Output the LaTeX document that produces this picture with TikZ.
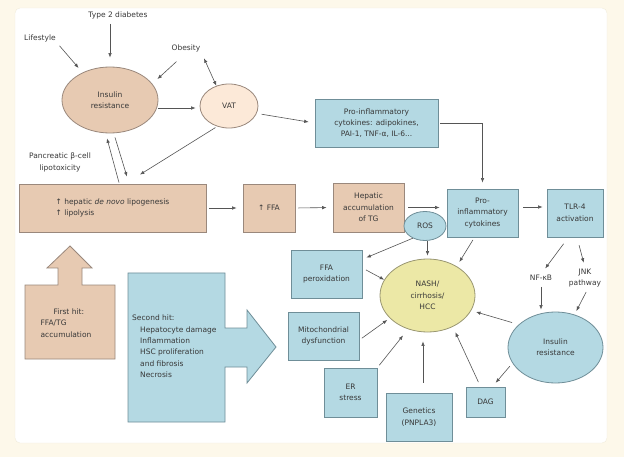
\documentclass[tikz,border=0pt]{standalone}
\usepackage{fontspec}
\setmainfont{DejaVu Sans}
\usetikzlibrary{shapes.geometric}
\usetikzlibrary{arrows.meta}

\definecolor{bgcream}{HTML}{FDF8EA}
\definecolor{panelline}{HTML}{F1ECDC}
\definecolor{brownfill}{HTML}{E7CAB2}
\definecolor{brownline}{HTML}{9A887C}
\definecolor{vatfill}{HTML}{FCE9D8}
\definecolor{bluefill}{HTML}{B4D9E3}
\definecolor{blueline}{HTML}{6F8E98}
\definecolor{yellowfill}{HTML}{ECE8A6}
\definecolor{yellowline}{HTML}{9A9772}
\definecolor{arrowgray}{HTML}{555555}
\definecolor{txtgray}{HTML}{383838}

\begin{document}
\begin{tikzpicture}[
  x=1pt, y=-1pt,
  font=\fontsize{7.5}{11.4}\selectfont,
  every node/.style={text=txtgray},
  brownbox/.style={rectangle, draw=brownline, fill=brownfill, line width=0.8pt, inner sep=0pt, align=center},
  bluebox/.style={rectangle, draw=blueline, fill=bluefill, line width=0.8pt, inner sep=0pt, align=center},
  blob/.style={ellipse, line width=0.8pt, inner sep=0pt, align=center},
  plain text/.style={inner sep=1pt, align=center},
  link/.style={draw=arrowgray, line width=0.6pt, -{Latex[length=4.5pt, width=3.5pt]}},
  both ways/.style={draw=arrowgray, line width=0.6pt, {Latex[length=4.5pt, width=3.5pt]}-{Latex[length=4.5pt, width=3.5pt]}},
  big arrow/.style={line width=0.8pt, line join=miter}
]

% Page and panel
\useasboundingbox (0,0) rectangle (624,457);
\fill[bgcream] (0,0) rectangle (624,457);
\filldraw[fill=white, draw=panelline, rounded corners=5pt] (15,8) rectangle (607,443);

%% RISK FACTORS
\node[plain text] (t2d) at (118,15) {Type 2 diabetes};
\node[plain text] (lifestyle) at (40,38) {Lifestyle};
\node[plain text] (obesity) at (186,48) {Obesity};
\node[plain text] (pancreas) at (60,162.5) {Pancreatic β-cell\\lipotoxicity};

\node[blob, draw=brownline, fill=brownfill, minimum width=96pt, minimum height=66pt] (ir_top) at (110,100) {Insulin\\resistance};
\node[blob, draw=brownline, fill=vatfill, minimum width=58pt, minimum height=44pt] (vat) at (229,106) {VAT};
\node[bluebox, minimum width=123pt, minimum height=48pt] (cyto_adipo) at (376.5,123) {Pro-inflammatory\\cytokines: adipokines,\\PAI-1, TNF-α, IL-6...};

%% FIRST HIT
\node[brownbox, align=left, minimum width=187pt, minimum height=48pt] (lipo) at (112.5,208) {↑ hepatic \textit{de novo} lipogenesis\\↑ lipolysis};
\node[brownbox, minimum width=52pt, minimum height=48pt] (ffa) at (269,208) {↑ FFA};
\node[brownbox, minimum width=71pt, minimum height=49pt] (hep_tg) at (368.5,207.5) {Hepatic\\accumulation\\of TG};

% First hit arrow
\draw[big arrow, draw=brownline, fill=brownfill] (25,285) -- (58,285) -- (58,268) -- (47,268) -- (70,246) -- (92,268) -- (82,268) -- (82,285) -- (115,285) -- (115,359) -- (25,359) -- cycle;
\node[plain text, align=left] (hit_one) at (66,323) {\hspace*{13pt}First hit:\\FFA/TG\\accumulation};

%% SECOND HIT
\draw[big arrow, draw=blueline, fill=bluefill] (128,273) -- (225,273) -- (225,328) -- (247,328) -- (247,310) -- (276,347) -- (247,383) -- (247,367) -- (225,367) -- (225,422) -- (128,422) -- cycle;
\node[plain text, align=left, anchor=west] (hit_two) at (131,346.5) {Second hit:\\\hspace*{8pt}Hepatocyte damage\\\hspace*{8pt}Inflammation\\\hspace*{8pt}HSC proliferation\\\hspace*{8pt}and fibrosis\\\hspace*{8pt}Necrosis};

\node[blob, draw=blueline, fill=bluefill, minimum width=42pt, minimum height=29pt] (ros) at (425,226) {ROS};
\node[bluebox, minimum width=71pt, minimum height=48pt] (cyto_liver) at (482.5,213) {Pro-\\inflammatory\\cytokines};
\node[bluebox, minimum width=56pt, minimum height=48pt] (tlr4) at (575,213) {TLR-4\\activation};

\node[bluebox, minimum width=71pt, minimum height=48pt] (perox) at (326.5,274) {FFA\\peroxidation};
\node[bluebox, minimum width=71pt, minimum height=48pt] (mito) at (323.5,336) {Mitochondrial\\dysfunction};
\node[bluebox, minimum width=53pt, minimum height=49pt] (er) at (350.5,392.5) {ER\\stress};
\node[bluebox, minimum width=66pt, minimum height=48pt] (genetics) at (419,417) {Genetics\\(PNPLA3)};
\node[bluebox, minimum width=39pt, minimum height=30pt] (dag) at (485.5,402) {DAG};

\node[blob, draw=yellowline, fill=yellowfill, minimum width=95pt, minimum height=73pt] (nash) at (427.5,295.5) {NASH/\\cirrhosis/\\HCC};
\node[blob, draw=blueline, fill=bluefill, minimum width=95pt, minimum height=71pt] (ir_liver) at (555.5,347.5) {Insulin\\resistance};

\node[plain text] (nfkb) at (541,278) {NF-κB};
\node[plain text] (jnk) at (585,278) {JNK\\pathway};

%% CONNECTORS
% Towards insulin resistance and VAT
\draw[link, shorten <=4pt, shorten >=9pt] (t2d.south -| ir_top.north) -- (ir_top.north);
\draw[link, shorten <=4pt, shorten >=6pt] (lifestyle.south east) -- (ir_top.135);
\draw[link, shorten <=13pt, shorten >=7pt] (obesity.south) -- (ir_top.21);
\draw[both ways, shorten <=6pt] (obesity.south east) -- (vat.122);
\draw[link, shorten >=4pt] ([yshift=-2pt]vat.west -| ir_top.east) -- ([yshift=-2pt]vat.west);
\draw[link, shorten <=5pt, shorten >=6pt] (vat.-15) -- (cyto_adipo.west);
\draw[link, shorten <=2pt, shorten >=17pt] (vat.240) -- ([xshift=13pt]lipo.north);

% Insulin resistance <-> lipogenesis
\draw[link] ([xshift=6.5pt, yshift=1pt]lipo.north) -- ([xshift=-3pt, yshift=-5pt]ir_top.south);
\draw[link] ([xshift=5pt, yshift=-4pt]ir_top.south) -- ([xshift=14.5pt, yshift=7pt]lipo.north);

% First hit chain
\draw[link, shorten <=3pt, shorten >=6pt] (lipo.east) -- (ffa.west);
\draw[link, shorten <=3pt, shorten >=6pt] (ffa.east) -- (hep_tg.west);
\draw[link, shorten <=4pt, shorten >=7pt] (hep_tg.east) -- (hep_tg.east -| cyto_liver.west);
\draw[link, shorten <=2pt, shorten >=6pt] (cyto_adipo.east) -| (cyto_liver.north);
\draw[link, shorten <=5pt, shorten >=4pt] ([yshift=6pt]cyto_liver.east) -- ([yshift=6pt]tlr4.west);

% Into NASH
\draw[link] (ros.225) -- ([xshift=4pt, yshift=-8pt]perox.north east);
\draw[link, shorten >=3pt] (ros.south -| nash.north) -- (nash.north);
\draw[link, shorten <=3pt, shorten >=5pt] ([xshift=-8pt]cyto_liver.south) -- (nash.45);
\draw[link, shorten <=4pt] ([yshift=6pt]perox.east) -- (nash.160);
\draw[link, shorten <=3pt, shorten >=3pt] ([yshift=-4pt]mito.east) -- (nash.211);
\draw[link, shorten <=3pt, shorten >=8pt] (er.north east) -- (nash.240);
\draw[link, shorten <=10pt, shorten >=9pt] ([xshift=4pt]genetics.north) -- ([xshift=4pt]genetics.north |- nash.south);
\draw[link, shorten <=5pt, shorten >=6pt] ([xshift=-5pt]dag.north) -- (nash.309);
\draw[link, shorten <=7pt, shorten >=5pt] (ir_liver.148) -- (nash.-19);
\draw[link, shorten <=4pt, shorten >=5pt] (ir_liver.200) -- ([xshift=-13pt]dag.north east);

% TLR-4 signalling
\draw[link, shorten <=8pt, shorten >=7pt] ([xshift=-6.6pt]tlr4.south) -- (nfkb.north);
\draw[link, shorten <=8pt, shorten >=5pt] ([xshift=2pt]tlr4.south) -- (jnk.north);
\draw[link, shorten <=5pt, shorten >=2pt] (nfkb.south) -- (nfkb.south |- ir_liver.north);
\draw[link, shorten <=4pt, shorten >=4pt] ([xshift=3pt]jnk.south) -- (ir_liver.60);

\end{tikzpicture}
\end{document}
